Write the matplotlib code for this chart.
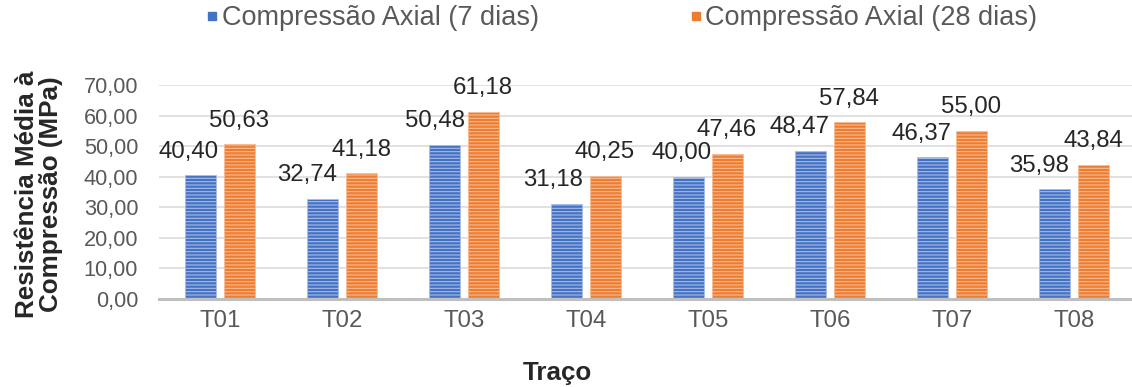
import matplotlib
matplotlib.use("Agg")
import matplotlib.pyplot as plt
import numpy as np
from matplotlib.lines import Line2D

plt.rcParams['font.family'] = ['Liberation Sans', 'DejaVu Sans']
plt.rcParams['hatch.linewidth'] = 0.8

# Data
categories = ["T01", "T02", "T03", "T04", "T05", "T06", "T07", "T08"]
axial_7 = [40.40, 32.74, 50.48, 31.18, 40.00, 48.47, 46.37, 35.98]
axial_28 = [50.63, 41.18, 61.18, 40.25, 47.46, 57.84, 55.00, 43.84]
series_names = ["Compressão Axial (7 dias)", "Compressão Axial (28 dias)"]
y_ticks = [0, 10, 20, 30, 40, 50, 60, 70]

# Horizontal nudges (px) applied to the 7-day value labels
label_shift_7 = [-12, -16, -10, -14, -7, -11, -11, -16]

BLUE, BLUE_LT = "#4472C4", "#A9BDE6"
ORANGE, ORANGE_LT = "#ED7D31", "#F7BC94"

W, H = 1132, 387
fig = plt.figure(figsize=(W / 100, H / 100), dpi=100)
ax = fig.add_axes([159 / W, (H - 299) / H, 976 / W, 214 / H])

x = np.arange(len(categories))
bw = 0.254
off = 0.156

ax.bar(x - off, axial_7, bw, color=BLUE, edgecolor=BLUE_LT, linewidth=0.6,
       hatch="-----", zorder=3)
ax.bar(x + off, axial_28, bw, color=ORANGE, edgecolor=ORANGE_LT, linewidth=0.6,
       hatch="-----", zorder=3)

fmt = lambda v: f"{v:.2f}".replace(".", ",")
for xi, v, dx in zip(x, axial_7, label_shift_7):
    ax.annotate(fmt(v), (xi - off, v), xytext=(dx * 0.72, 12.6),
                textcoords="offset points", ha="center", va="baseline",
                fontsize=17.3, color="#262626", zorder=4)
for xi, v in zip(x, axial_28):
    ax.annotate(fmt(v), (xi + off, v), xytext=(0, 12.6),
                textcoords="offset points", ha="center", va="baseline",
                fontsize=17.3, color="#262626", zorder=4)

ax.set_xlim(-0.5, len(categories) - 0.5)
ax.set_ylim(0, 70)
ax.set_yticks(y_ticks)
ax.set_yticklabels([fmt(t) for t in y_ticks])
ax.set_xticks(x)
ax.set_xticklabels(categories)

ax.grid(axis="y", color="#D9D9D9", linewidth=1.1, zorder=0)
ax.set_axisbelow(True)
for s in ["top", "right", "left"]:
    ax.spines[s].set_visible(False)
ax.spines["bottom"].set_color("#BFBFBF")
ax.spines["bottom"].set_linewidth(2.2)
ax.spines["bottom"].set_zorder(5)

ax.tick_params(axis="y", length=0, pad=15, labelsize=15.7, labelcolor="#595959")
ax.tick_params(axis="x", length=0, pad=8, labelsize=17.3, labelcolor="#595959")

# Axis titles
fig.text(39 / W, 1 - 194 / H, "Resistência Média à\nCompressão (MPa)",
         rotation=90, ha="center", va="center", fontsize=18.7,
         fontweight="bold", color="#262626", linespacing=1.05)
fig.text(557 / W, 7 / H, "Traço", ha="center", va="baseline",
         fontsize=18.7, fontweight="bold", color="#262626")

# Legend
handles = [Line2D([], [], marker="s", linestyle="", markersize=5.5, color=BLUE),
           Line2D([], [], marker="s", linestyle="", markersize=5.5, color=ORANGE)]
fig.legend(handles, series_names, loc="center", ncol=2,
           bbox_to_anchor=(622 / W, 1 - 18 / H), frameon=False,
           fontsize=19.5, labelcolor="#595959", handlelength=0.4,
           handletextpad=0.15, columnspacing=5.6, borderaxespad=0)

fig.savefig("out.png", dpi=100)
